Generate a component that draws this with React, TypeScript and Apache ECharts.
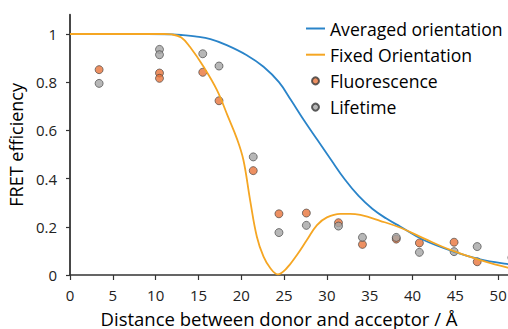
import React, { useEffect, useRef } from "react";
import * as echarts from "echarts";

const averagedX = [0, 3, 6, 9, 12, 13.2, 14.6, 16.4, 18.3, 20.6, 22.6, 24.4, 25.8, 27.3, 28.9, 30.5, 32.1, 33.7, 35.3, 36.9, 38.6, 41.3, 44.8, 47.9, 51, 53];
const averagedY = [1, 1, 1, 1, 0.998, 0.995, 0.99, 0.979, 0.954, 0.913, 0.864, 0.8, 0.726, 0.643, 0.56, 0.477, 0.396, 0.328, 0.275, 0.235, 0.2, 0.145, 0.097, 0.065, 0.046, 0.038];

const fixedX = [0, 4, 8, 11, 11.9, 13, 14, 15.6, 17.15, 18.45, 19.5, 20.25, 21.03, 21.82, 22.6, 23.4, 24.25, 25.3, 26.5, 27.66, 28.84, 30, 31.56, 32.7, 33.9, 36.2, 38.6, 41.3, 44.4, 47.9, 51, 53];
const fixedY = [1, 1, 1, 1, 0.998, 0.985, 0.947, 0.864, 0.768, 0.657, 0.565, 0.477, 0.311, 0.159, 0.076, 0.028, 0.003, 0.028, 0.083, 0.145, 0.207, 0.239, 0.254, 0.254, 0.249, 0.225, 0.196, 0.152, 0.104, 0.062, 0.032, 0.022];

const fluorescence = [
  [3.4, 0.852], [10.45, 0.838], [10.45, 0.816], [15.5, 0.841], [17.4, 0.723],
  [21.4, 0.433], [24.4, 0.254], [27.6, 0.257], [31.35, 0.217], [34.15, 0.127],
  [38.1, 0.149], [40.8, 0.133], [44.85, 0.136], [47.55, 0.055],
];
const lifetime = [
  [3.4, 0.795], [10.45, 0.936], [10.45, 0.914], [15.5, 0.918], [17.4, 0.867],
  [21.4, 0.49], [24.4, 0.176], [27.6, 0.206], [31.35, 0.203], [34.15, 0.156],
  [38.1, 0.156], [40.8, 0.094], [44.85, 0.097], [47.55, 0.118], [51.6, 0.072],
];

const xTicks = [0, 5, 10, 15, 20, 25, 30, 35, 40, 45, 50];
const yTicks = [0, 0.2, 0.4, 0.6, 0.8, 1];

const FONT = "Open Sans";

export default function App() {
  const ref = useRef<HTMLDivElement>(null);
  useEffect(() => {
    if (!ref.current) return;
    const chart = echarts.init(ref.current, null, { renderer: "svg" });
    const zip = (xs: number[], ys: number[]) => xs.map((x, i) => [x, ys[i]]);
    chart.setOption({
      animation: false,
      backgroundColor: "#ffffff",
      grid: { left: 70, right: -33, top: 14.7, bottom: 54, containLabel: false, outerBoundsMode: "none" },
      legend: {
        orient: "vertical",
        left: 300,
        top: 13.5,
        itemWidth: 19,
        itemHeight: 7,
        itemGap: 6.2,
        textStyle: { fontFamily: FONT, fontSize: 17.6, color: "#000", lineHeight: 20 },
        data: [
          { name: "Averaged orientation", itemStyle: { opacity: 0 } },
          { name: "Fixed Orientation", itemStyle: { opacity: 0 } },
          "Fluorescence",
          "Lifetime",
        ],
      },
      xAxis: {
        type: "value",
        min: 0,
        max: 55,
        interval: 5,
        splitLine: { show: false },
        axisLine: { lineStyle: { color: "#333", width: 1.5 } },
        axisTick: { show: true, length: 5, lineStyle: { color: "#333", width: 1.2 }, customValues: xTicks },
        axisLabel: { fontFamily: FONT, fontSize: 15, color: "#222", margin: 12, customValues: xTicks },
        name: "Distance between donor and acceptor / Å",
        nameLocation: "middle",
        nameGap: 33.5,
        nameTextStyle: { fontFamily: FONT, fontSize: 18.5, color: "#000", padding: [0, 53, 0, 0] },
      },
      yAxis: {
        type: "value",
        min: 0,
        max: 1.08,
        splitLine: { show: false },
        axisLine: { show: true, lineStyle: { color: "#333", width: 1.8 } },
        axisTick: { show: true, length: 4, lineStyle: { color: "#333", width: 1.2 }, customValues: yTicks },
        axisLabel: {
          fontFamily: FONT, fontSize: 15, color: "#222", margin: 13, customValues: yTicks,
          formatter: (v: number) => String(Math.round(v * 10) / 10),
        },
        name: "FRET efficiency",
        nameLocation: "middle",
        nameGap: 39,
        nameTextStyle: { fontFamily: FONT, fontSize: 18, color: "#000" },
      },
      series: [
        {
          name: "Averaged orientation",
          type: "line",
          data: zip(averagedX, averagedY),
          smooth: 0.4,
          symbol: "none",
          color: "#2a84c9",
          lineStyle: { color: "#2a84c9", width: 1.8 },
        },
        {
          name: "Fixed Orientation",
          type: "line",
          data: zip(fixedX, fixedY),
          smooth: 0.4,
          symbol: "none",
          color: "#f5a623",
          lineStyle: { color: "#f5a623", width: 1.8 },
        },
        {
          name: "Fluorescence",
          type: "scatter",
          data: fluorescence,
          symbol: "circle",
          symbolSize: 8,
          itemStyle: { color: "#e8743b", borderColor: "#3a3a3a", borderWidth: 0.8 },
        },
        {
          name: "Lifetime",
          type: "scatter",
          data: lifetime,
          symbol: "circle",
          symbolSize: 8,
          itemStyle: { color: "#a5a5a5", borderColor: "#3a3a3a", borderWidth: 0.8 },
        },
      ],
    });
    return () => chart.dispose();
  }, []);
  return (
    <div
      ref={ref}
      style={{ position: "absolute", left: 0, top: 0, width: 508, height: 329, background: "#fff" }}
    />
  );
}
